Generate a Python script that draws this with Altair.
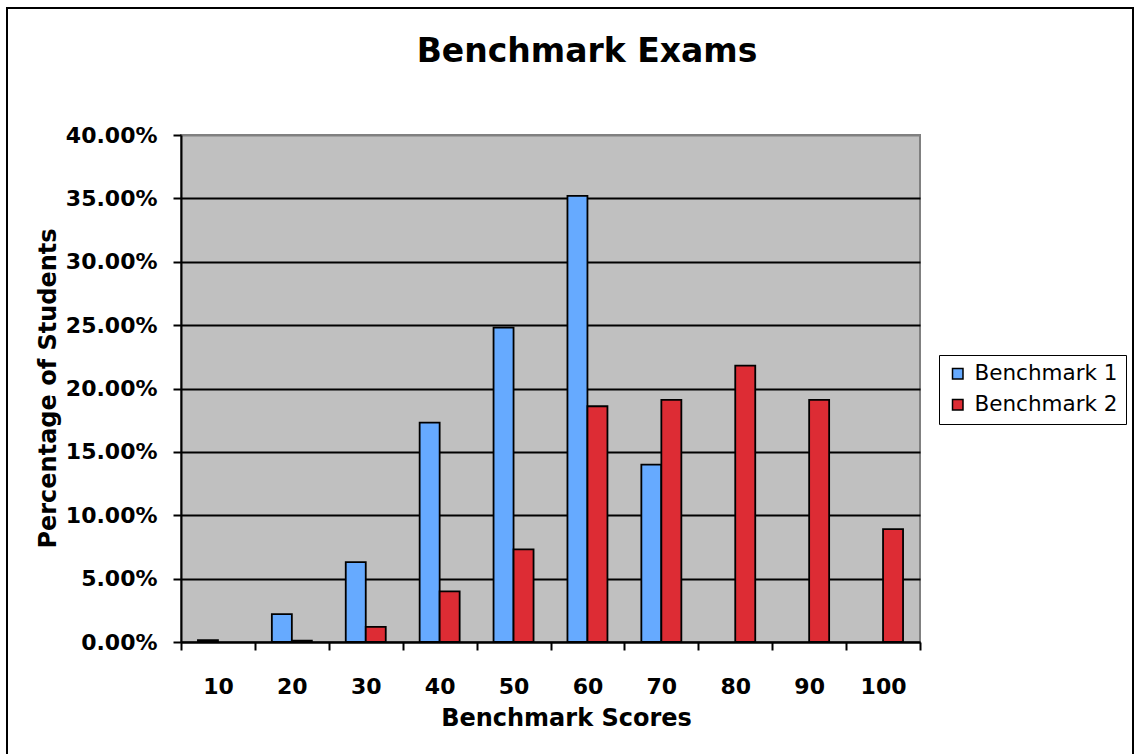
import altair as alt
import pandas as pd

scores = ["10", "20", "30", "40", "50", "60", "70", "80", "90", "100"]
benchmark1 = [0.0015, 0.022, 0.063, 0.173, 0.248, 0.352, 0.140, 0.0, 0.0, 0.0]
benchmark2 = [0.0, 0.001, 0.012, 0.040, 0.073, 0.186, 0.191, 0.218, 0.191, 0.089]
series = ["Benchmark 1", "Benchmark 2"]
colors = ["#66AAFF", "#DD2C34"]
y_ticks = [0, 0.05, 0.10, 0.15, 0.20, 0.25, 0.30, 0.35, 0.40]
title_text = "Benchmark Exams"

rows = []
for s, vals in zip(series, [benchmark1, benchmark2]):
    for c, v in zip(scores, vals):
        rows.append({"score": c, "series": s, "value": v})
df = pd.DataFrame(rows)

FONT = "DejaVu Sans"

bars = alt.Chart(df).transform_filter(alt.datum.value > 0).mark_bar(
    stroke="black", strokeWidth=1.8
).encode(
    x=alt.X("score:N", sort=scores,
            scale=alt.Scale(paddingInner=0, paddingOuter=0),
            axis=alt.Axis(title="Benchmark Scores", labelAngle=0, tickBand="extent",
                          tickSize=8, tickColor="black", tickWidth=2,
                          domainColor="black", domainWidth=2,
                          labelPadding=26, labelFontSize=22, labelFontWeight="bold",
                          labelFont=FONT, labelColor="black",
                          titleFont=FONT, titleFontSize=24, titleFontWeight="bold",
                          titleColor="black", titleX=385, titleY=76,
                          titleBaseline="middle", titleAlign="center")),
    xOffset=alt.XOffset("series:N", sort=series,
                        scale=alt.Scale(paddingInner=0, paddingOuter=0.8475)),
    y=alt.Y("value:Q", scale=alt.Scale(domain=[0, 0.4], nice=False),
            axis=alt.Axis(title="Percentage of Students", format=".2%", values=y_ticks,
                          grid=True,
                          gridColor=alt.condition("datum.value >= 0.4", alt.value("#808080"), alt.value("black")),
                          gridWidth=2,
                          tickSize=8, tickColor="black", tickWidth=2,
                          domainColor="black", domainWidth=2,
                          labelPadding=16, labelFontSize=22, labelFontWeight="bold",
                          labelFont=FONT, labelColor="black",
                          titleFont=FONT, titleFontSize=24, titleFontWeight="bold",
                          titleColor="black", titleX=-133, titleY=253,
                          titleBaseline="middle", titleAlign="center", titleAngle=270)),
    color=alt.Color("series:N", sort=series,
                    scale=alt.Scale(domain=series, range=colors),
                    legend=alt.Legend(title=None, orient="none", legendX=758, legendY=220,
                                      symbolType="square", symbolSize=110,
                                      symbolStrokeColor="black", symbolStrokeWidth=1.5,
                                      labelFont=FONT, labelFontSize=21.5, labelColor="black",
                                      labelOffset=6, rowPadding=8,
                                      padding=8, strokeColor="black", fillColor="white")),
)

border = alt.Chart(pd.DataFrame({"a": [0]})).mark_rect(
    fill="transparent", stroke="black", strokeWidth=2
).encode(
    x=alt.value(-174), x2=alt.value(952), y=alt.value(-127), y2=alt.value(640)
)

title = alt.Chart(pd.DataFrame({"t": [title_text]})).mark_text(
    font=FONT, fontSize=33, fontWeight="bold", color="black",
    align="center", baseline="alphabetic"
).encode(
    x=alt.value(406), y=alt.value(-73), text="t:N"
)

chart = alt.layer(bars, border, title).properties(
    width=739, height=507,
    padding={"left": 181, "top": 135, "right": 214, "bottom": 112},
    autosize=alt.AutoSizeParams(type="none"),
    background="white",
).configure_view(fill="#C0C0C0", stroke="#808080", strokeWidth=2)

chart.save("out.html", embed_options={"renderer": "svg", "actions": False})
